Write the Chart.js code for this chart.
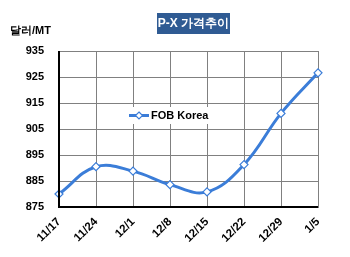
<!DOCTYPE html>
<html>
<head>
<meta charset="utf-8">
<script src="https://cdn.jsdelivr.net/npm/chart.js@4"></script>
<style>
  html, body { margin: 0; padding: 0; background: #fff; }
  canvas { display: block; }
</style>
</head>
<body>
<canvas id="chart" width="350" height="257"></canvas>
<script>
// P-X price trend (FOB Korea), USD/MT
const categories = ['11/17', '11/24', '12/1', '12/8', '12/15', '12/22', '12/29', '1/5'];
const fobKorea = [880, 890.5, 888.8, 883.6, 880.8, 891.3, 911, 926.6];
const yTicks = { min: 875, max: 935, step: 10 };

const FONT = 'Liberation Sans, Arial, sans-serif';
const BLUE = '#3b7dd8';

// title box, unit label and inline legend
const decorations = {
    id: 'decorations',
    beforeDraw: function (chart) {
        const c = chart.ctx;
        c.save();
        c.fillStyle = '#fff';
        c.fillRect(0, 0, chart.width, chart.height);
        c.restore();
    },
    afterDraw: function (chart) {
        const c = chart.ctx;
        c.save();
        // title
        c.fillStyle = '#2f5b93';
        c.fillRect(157, 13, 73, 21);
        c.fillStyle = '#fff';
        c.font = 'bold 12px ' + FONT;
        c.textAlign = 'center';
        c.textBaseline = 'middle';
        c.fillText('P-X 가격추이', 193.5, 24);
        // unit
        c.fillStyle = '#000';
        c.font = 'bold 11px ' + FONT;
        c.textAlign = 'left';
        c.fillText('달러/MT', 10, 31);
        // legend
        c.fillStyle = '#fff';
        c.fillRect(127, 107, 90, 17);
        c.strokeStyle = BLUE;
        c.lineWidth = 3;
        c.beginPath();
        c.moveTo(129, 115.5);
        c.lineTo(149, 115.5);
        c.stroke();
        c.fillStyle = '#fff';
        c.lineWidth = 1.2;
        c.beginPath();
        c.moveTo(139, 112);
        c.lineTo(142.5, 115.5);
        c.lineTo(139, 119);
        c.lineTo(135.5, 115.5);
        c.closePath();
        c.fill();
        c.stroke();
        c.fillStyle = '#000';
        c.font = 'bold 11px ' + FONT;
        c.fillText('FOB Korea', 151, 116);
        // axis lines
        const a = chart.chartArea;
        c.strokeStyle = '#000';
        c.lineWidth = 2;
        c.beginPath();
        c.moveTo(a.left, a.top);
        c.lineTo(a.left, a.bottom);
        c.lineTo(a.right, a.bottom);
        c.stroke();
        c.restore();
    }
};

new Chart(document.getElementById('chart'), {
    type: 'line',
    data: {
        labels: categories,
        datasets: [{
            label: 'FOB Korea',
            data: fobKorea,
            borderColor: BLUE,
            borderWidth: 3,
            tension: 0.4,
            pointStyle: 'rectRot',
            pointRadius: 4,
            pointBackgroundColor: '#fff',
            pointBorderColor: BLUE,
            pointBorderWidth: 1.2
        }]
    },
    options: {
        responsive: false,
        animation: false,
        layout: { padding: { top: 51, right: 32, left: 0, bottom: 0 } },
        plugins: { legend: { display: false }, tooltip: { enabled: false } },
        scales: {
            x: {
                offset: false,
                grid: { color: '#808080', lineWidth: 1, drawTicks: false },
                border: { color: '#808080' },
                ticks: {
                    color: '#000',
                    font: { family: FONT, size: 11.5, weight: 'bold' },
                    minRotation: 45,
                    maxRotation: 45,
                    padding: 8
                },
                afterFit: function (s) { s.height = 50; }
            },
            y: {
                min: yTicks.min,
                max: yTicks.max,
                grid: { color: '#808080', lineWidth: 1, drawTicks: false },
                border: { color: '#808080' },
                ticks: {
                    stepSize: yTicks.step,
                    color: '#000',
                    font: { family: FONT, size: 11, weight: 'bold' },
                    padding: 15
                },
                afterFit: function (s) { s.width = 59; }
            }
        }
    },
    plugins: [decorations]
});
</script>
</body>
</html>
